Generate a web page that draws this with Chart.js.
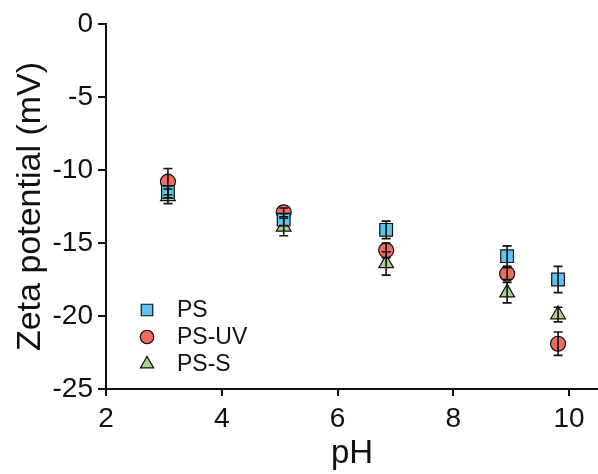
<!DOCTYPE html>
<html>
<head>
<meta charset="utf-8">
<title>Zeta potential vs pH</title>
<script src="https://cdn.jsdelivr.net/npm/chart.js@4/dist/chart.umd.min.js"></script>
<style>
  html, body { margin: 0; padding: 0; background: #ffffff; }
  #wrap { width: 598px; height: 474px; }
</style>
</head>
<body>
<div id="wrap"><canvas id="zetaChart" width="598" height="474"></canvas></div>
<script>
// pH values of each measurement
const phValues = [3.07, 5.07, 6.84, 8.93, 9.81];

// Zeta potential (mV) and error (±) per series
const psValues = [-11.5, -13.4, -14.1, -15.9, -17.5];
const psErrors = [0.4, 0.4, 0.6, 0.7, 0.9];
const psUvValues = [-10.8, -12.9, -15.5, -17.1, -21.9];
const psUvErrors = [0.9, 0.3, 0.5, 0.4, 0.8];
const psSValues = [-11.8, -13.9, -16.4, -18.4, -19.9];
const psSErrors = [0.5, 0.6, 0.8, 0.7, 0.5];

// Axis ticks
const xTicks = [2, 4, 6, 8, 10];
const yTicks = [0, -5, -10, -15, -20, -25];

const FONT = '"Liberation Sans", Arial, sans-serif';

function toPoints(values) {
  return values.map((v, i) => ({ x: phValues[i], y: v }));
}

const series = [
  { label: 'PS', values: psValues, errors: psErrors, style: 'rect', color: '#5ec3ef', radius: 9 },
  { label: 'PS-UV', values: psUvValues, errors: psUvErrors, style: 'circle', color: '#ee6b60', radius: 7.5 },
  { label: 'PS-S', values: psSValues, errors: psSErrors, style: 'triangle', color: '#a9d08c', radius: 8.5 },
];

/**
 * Error bars drawn through the chart's own scales
 */
const errorBarPlugin = {
  id: 'errorBars',
  afterDatasetsDraw(chart) {
    const { ctx, scales } = chart;
    ctx.save();
    ctx.strokeStyle = '#111111';
    ctx.lineWidth = 1.6;
    series.forEach((s) => {
      s.values.forEach((v, i) => {
        const x = scales.x.getPixelForValue(phValues[i]);
        const yTop = scales.y.getPixelForValue(v + s.errors[i]);
        const yBot = scales.y.getPixelForValue(v - s.errors[i]);
        ctx.beginPath();
        ctx.moveTo(x, yTop);
        ctx.lineTo(x, yBot);
        ctx.moveTo(x - 4.5, yTop);
        ctx.lineTo(x + 4.5, yTop);
        ctx.moveTo(x - 4.5, yBot);
        ctx.lineTo(x + 4.5, yBot);
        ctx.stroke();
      });
    });
    ctx.restore();
  },
};

/**
 * Legend inside the plot area
 */
const innerLegendPlugin = {
  id: 'innerLegend',
  afterDraw(chart) {
    const { ctx } = chart;
    const rows = [310, 337, 364];
    ctx.save();
    series.forEach((s, i) => {
      const y = rows[i];
      ctx.fillStyle = s.color;
      ctx.strokeStyle = '#111111';
      ctx.lineWidth = 1.2;
      Chart.helpers.drawPoint(ctx, { pointStyle: s.style, radius: s.radius * 0.9, rotation: 0, borderWidth: 1.2 }, 147, y);
      ctx.fillStyle = '#111111';
      ctx.font = '23px ' + FONT;
      ctx.textBaseline = 'middle';
      ctx.textAlign = 'left';
      ctx.fillText(s.label, 177, y + 1);
    });
    ctx.restore();
  },
};

new Chart(document.getElementById('zetaChart'), {
  type: 'scatter',
  data: {
    datasets: series.map((s) => ({
      label: s.label,
      data: toPoints(s.values),
      pointStyle: s.style,
      pointRadius: s.radius,
      pointHoverRadius: s.radius,
      backgroundColor: s.color,
      borderColor: '#111111',
      borderWidth: 1.2,
      showLine: false,
    })),
  },
  options: {
    responsive: false,
    animation: false,
    layout: { autoPadding: false, padding: { top: 24, right: 0, left: 0, bottom: 0 } },
    plugins: {
      legend: { display: false },
      tooltip: { enabled: false },
    },
    scales: {
      x: {
        type: 'linear',
        min: 2,
        max: 10.5,
        afterBuildTicks: (scale) => { scale.ticks = xTicks.map((v) => ({ value: v })); },
        afterFit: (scale) => {
          scale.height = 85;
          scale.paddingLeft = 0;
          scale.paddingRight = 0;
        },
        border: { display: true, color: '#111111', width: 2 },
        grid: { display: true, drawOnChartArea: false, drawTicks: true, tickLength: 7, color: '#111111', lineWidth: 2 },
        ticks: { color: '#111111', padding: 6, font: { family: FONT, size: 28 } },
        title: { display: true, text: 'pH', color: '#111111', padding: { top: 0, bottom: 0 }, font: { family: FONT, size: 33 } },
      },
      y: {
        type: 'linear',
        min: -25,
        max: 0,
        afterBuildTicks: (scale) => { scale.ticks = yTicks.map((v) => ({ value: v })); },
        afterFit: (scale) => { scale.width = 106; },
        border: { display: true, color: '#111111', width: 2 },
        grid: { display: true, drawOnChartArea: false, drawTicks: true, tickLength: 8, color: '#111111', lineWidth: 2 },
        ticks: { color: '#111111', padding: 5, font: { family: FONT, size: 28 } },
        title: { display: true, text: 'Zeta potential (mV)', color: '#111111', padding: { top: 10, bottom: 0 }, font: { family: FONT, size: 34 } },
      },
    },
  },
  plugins: [errorBarPlugin, innerLegendPlugin],
});
</script>
</body>
</html>
